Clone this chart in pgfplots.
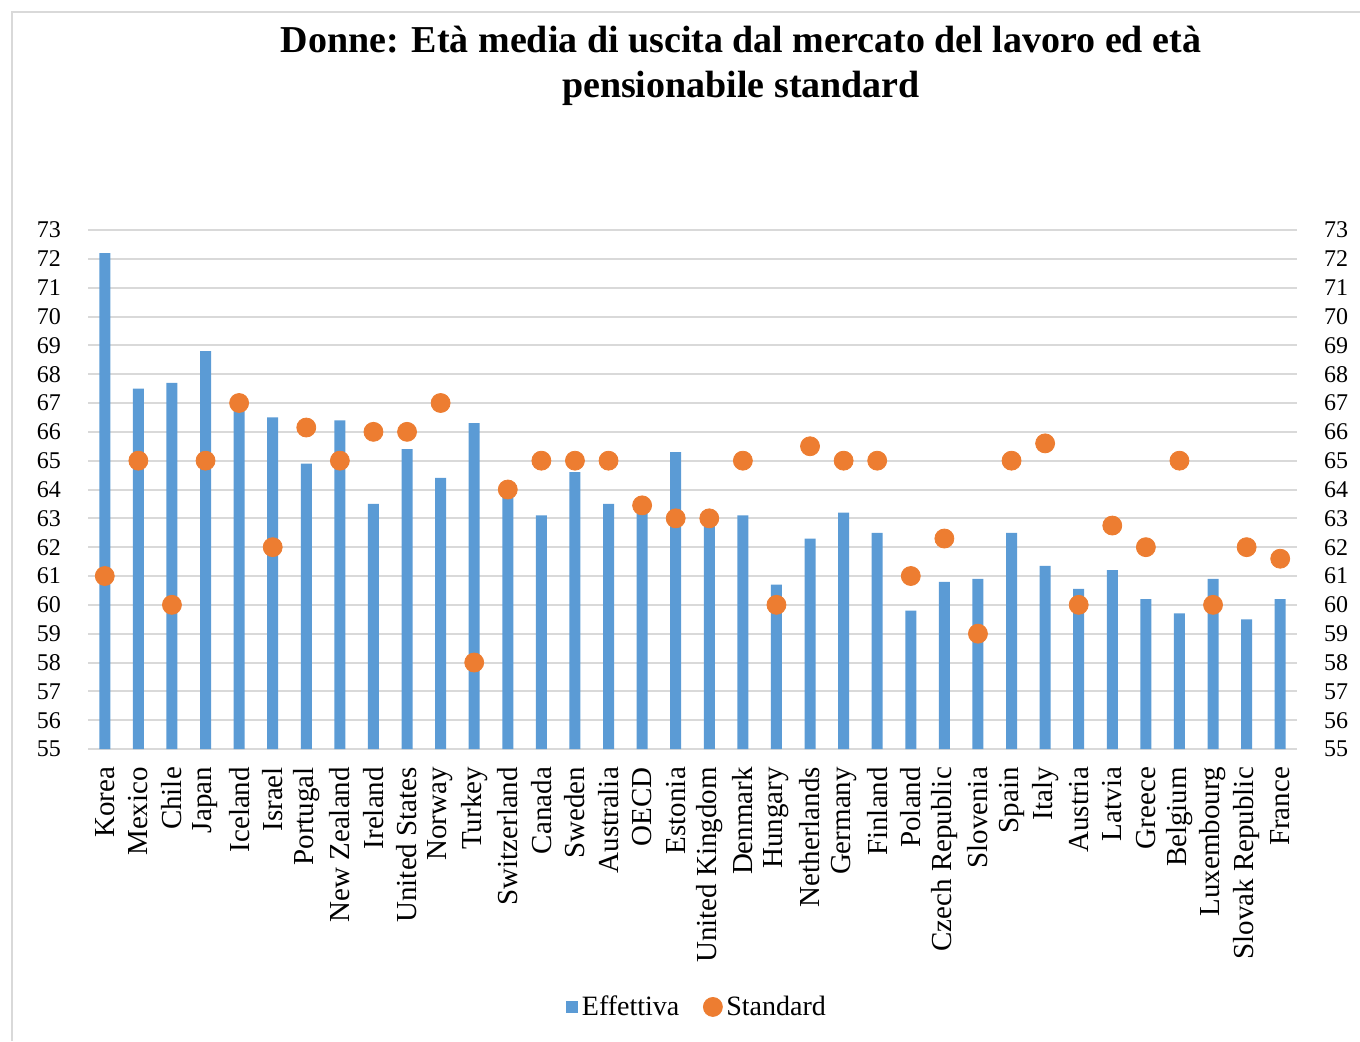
\documentclass[border=0pt]{standalone}
\usepackage{pgfplots}
\pgfplotsset{compat=1.18}
\usepackage{pgfplotstable}
\usepackage{fontspec}
\setmainfont{Liberation Serif}
\definecolor{effblue}{HTML}{5B9BD5}
\definecolor{stdorange}{HTML}{ED7D31}
\definecolor{gridgray}{HTML}{D9D9D9}
\definecolor{framegray}{HTML}{D9D9D9}

\pgfplotstableread{
x eff std
0 72.2 61
1 67.5 65
2 67.7 60
3 68.8 65
4 66.9 67
5 66.5 62
6 64.9 66.15
7 66.4 65
8 63.5 66
9 65.4 66
10 64.4 67
11 66.3 58
12 63.8 64
13 63.1 65
14 64.6 65
15 63.5 65
16 63.2 63.45
17 65.3 63
18 62.9 63
19 63.1 65
20 60.7 60
21 62.3 65.5
22 63.2 65
23 62.5 65
24 59.8 61
25 60.8 62.3
26 60.9 59
27 62.5 65
28 61.35 65.6
29 60.55 60
30 61.2 62.75
31 60.2 62
32 59.7 65
33 60.9 60
34 59.5 62
35 60.2 61.6
}\data

\begin{document}
\begin{tikzpicture}
\useasboundingbox (-44pt,-146pt) rectangle (636pt,374.5pt);
\draw[framegray, line width=0.8pt] (-38pt,-146pt) -- (-38pt,368.5pt) -- (636pt,368.5pt);
\node[align=center, font=\bfseries\fontsize{19}{22.5}\selectfont] at (326.5pt,341.7pt)
  {Donne: Età media di uscita dal mercato del lavoro ed età\\pensionabile standard};
\begin{axis}[
  scale only axis, width=604.5pt, height=259.5pt,
  xmin=-0.5, xmax=35.5, ymin=55, ymax=73,
  ytick={55,...,73},
  xtick={0,...,35},
  xticklabels={Korea,Mexico,Chile,Japan,Iceland,Israel,Portugal,New Zealand,Ireland,United States,Norway,Turkey,Switzerland,Canada,Sweden,Australia,OECD,Estonia,United Kingdom,Denmark,Hungary,Netherlands,Germany,Finland,Poland,Czech Republic,Slovenia,Spain,Italy,Austria,Latvia,Greece,Belgium,Luxembourg,Slovak Republic,France},
  axis line style={draw=none},
  major tick length=0pt,
  ymajorgrids, grid style={gridgray, line width=1pt},
  /pgf/number format/assume math mode=true,
  yticklabel style={font=\fontsize{12}{14}\selectfont, xshift=-10pt},
  xticklabel style={rotate=90, anchor=east, font=\fontsize{14.5}{16}\selectfont, xshift=-5.5pt},
  legend style={at={(axis description cs:0.5045,-0.497)}, anchor=center, draw=none,
    legend columns=2, font=\fontsize{14}{16}\selectfont,
    /tikz/every even column/.append style={column sep=10pt}},
]
\addplot[ybar, bar width=5.5pt, bar shift=0pt, fill=effblue, draw=none,
  legend image code/.code={\fill[effblue] (0.5pt,-3pt) rectangle (6.5pt,3pt);}]
  table[x=x, y=eff]{\data};
\addlegendentry{Effettiva}
\addplot[only marks, mark=*, mark size=4.75pt, color=stdorange]
  table[x=x, y=std]{\data};
\addlegendentry{Standard}
\end{axis}
\begin{axis}[
  scale only axis, width=604.5pt, height=259.5pt,
  xmin=-0.5, xmax=35.5, ymin=55, ymax=73,
  ytick={55,...,73},
  hide x axis,
  yticklabel pos=right,
  axis line style={draw=none},
  major tick length=0pt,
  /pgf/number format/assume math mode=true,
  yticklabel style={font=\fontsize{12}{14}\selectfont, xshift=10pt},
]
\addplot[draw=none, forget plot] coordinates {(0,55)};
\end{axis}
\end{tikzpicture}
\end{document}
